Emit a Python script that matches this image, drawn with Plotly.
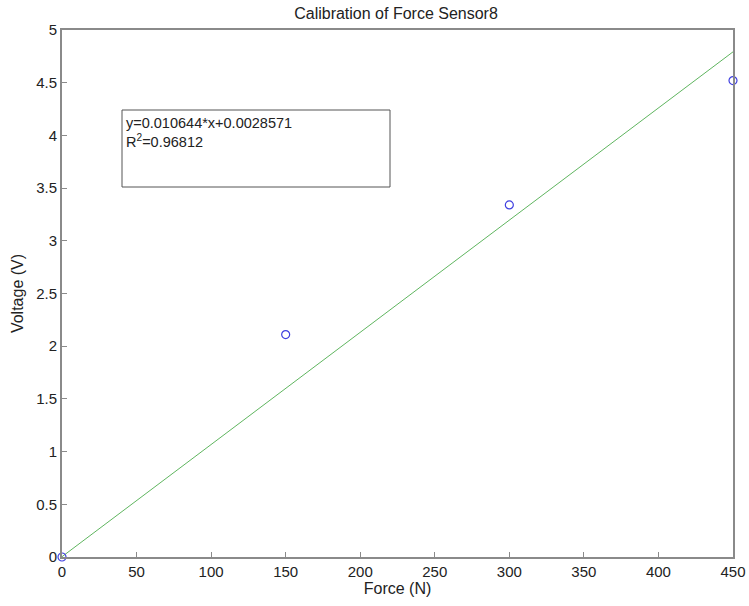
import plotly.graph_objects as go

force = [0, 150, 300, 450]
voltage = [0.0, 2.11, 3.34, 4.52]
slope = 0.010644
intercept = 0.0028571
r2 = 0.96812
fit_x = [0, 450]
fit_y = [slope * x + intercept for x in fit_x]

x_ticks = [0, 50, 100, 150, 200, 250, 300, 350, 400, 450]
y_ticks = [0, 0.5, 1, 1.5, 2, 2.5, 3, 3.5, 4, 4.5, 5]
y_labels = ["0", "0.5", "1", "1.5", "2", "2.5", "3", "3.5", "4", "4.5", "5"]

FONT = "Liberation Sans, Arial, sans-serif"

fig = go.Figure()
fig.add_trace(go.Scatter(x=fit_x, y=fit_y, mode="lines",
                         line=dict(color="#5fb55f", width=1), showlegend=False, cliponaxis=False))
fig.add_trace(go.Scatter(x=force, y=voltage, mode="markers",
                         marker=dict(symbol="circle-open", size=8, color="#4040e0", line=dict(width=1.2)),
                         showlegend=False, cliponaxis=False))

axis_common = dict(showgrid=False, zeroline=False, showline=True, linecolor="#8a8a8a", linewidth=2,
                   mirror=True, ticks="inside", ticklen=5, tickcolor="#8a8a8a", tickwidth=1,
                   automargin=False,
                   tickfont=dict(family=FONT, size=15, color="#222"))

fig.update_xaxes(range=[0, 450], tickvals=x_ticks, ticktext=[str(v) for v in x_ticks],
                 title=dict(text="Force (N)", standoff=2,
                            font=dict(family=FONT, size=16, color="#222")),
                 **axis_common)
fig.update_yaxes(range=[0, 5], tickvals=y_ticks, ticktext=y_labels,
                 title=dict(text="Voltage (V)", standoff=9,
                            font=dict(family=FONT, size=16, color="#222")),
                 **axis_common)

PW = 749 - 62 - 16
fig.add_shape(type="rect", xref="paper", yref="paper",
              x0=(122 - 62) / PW, x1=(390 - 62) / PW,
              y0=(557 - 187) / 527, y1=(557 - 110) / 527,
              line=dict(color="#555", width=1), fillcolor="white", layer="above")
fig.add_annotation(xref="paper", yref="paper", x=(124 - 62) / PW, y=(557 - 113) / 527,
                   xanchor="left", yanchor="top", align="left", showarrow=False,
                   text=f"y={slope}*x+{intercept}<br>R<sup>2</sup>={r2}",
                   font=dict(family=FONT, size=14.5, color="#222"))

fig.update_layout(
    width=749, height=606,
    margin=dict(l=62, r=16, t=30, b=49),
    plot_bgcolor="white", paper_bgcolor="white",
    title=dict(text="Calibration of Force Sensor8", x=396 / 749, xanchor="center",
               y=1 - 13 / 606, yanchor="middle",
               font=dict(family=FONT, size=16, color="#222")),
)

fig.write_html("out.html")
